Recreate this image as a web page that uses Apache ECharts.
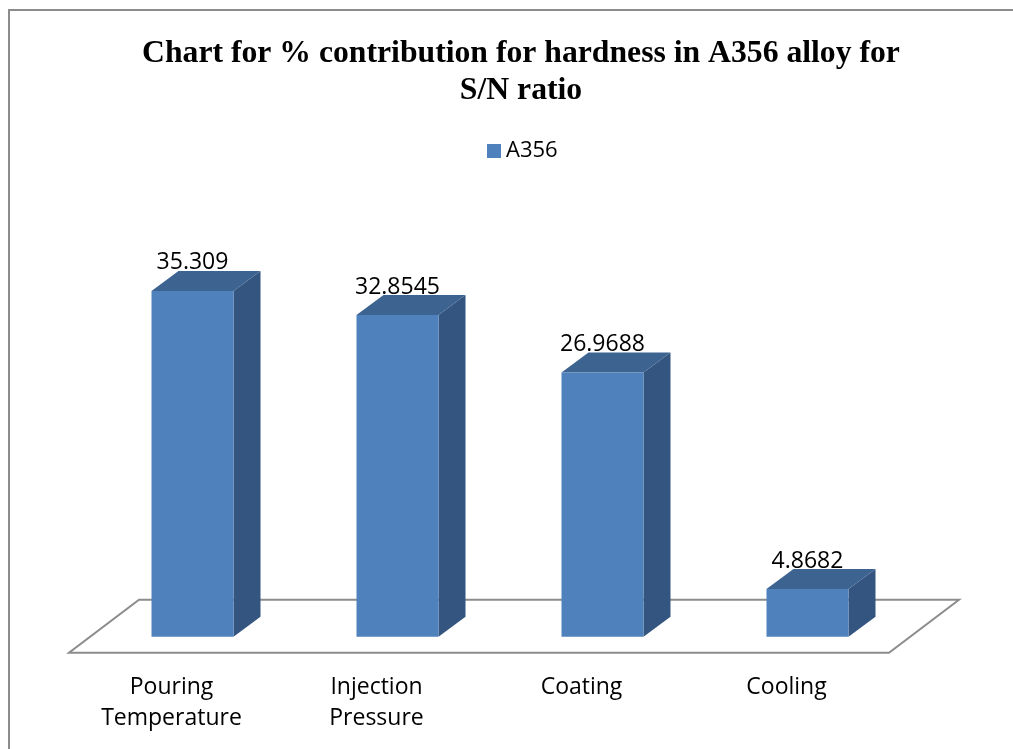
<!DOCTYPE html>
<html>
<head>
<meta charset="utf-8">
<script src="https://cdn.jsdelivr.net/npm/echarts@6/dist/echarts.min.js"></script>
<style>
  html, body { margin: 0; padding: 0; background: #fff; }
  #chart { width: 1013px; height: 749px; }
</style>
</head>
<body>
<div id="chart"></div>
<script>
// 数据
const categories = ['Pouring\nTemperature', 'Injection\nPressure', 'Coating', 'Cooling'];
const seriesName = 'A356';
const values = [35.309, 32.8545, 26.9688, 4.8682];
const valueLabels = ['35.309', '32.8545', '26.9688', '4.8682'];

// 3D 柱子的样式
const FRONT = '#4F81BD';
const SIDE = '#34557F';
const TOP = '#3D6391';
const DX = 27, DY = -20;       // 柱子纵深偏移
const FLOOR_DX = 70, FLOOR_DY = -53;
const LABEL_FONT = '"Open Sans", "Liberation Sans", sans-serif';

const chart = echarts.init(document.getElementById('chart'));

// 底板（平行四边形）
function renderFloor(params, api) {
    const cs = params.coordSys;
    const yFront = cs.y + cs.height + 16;
    const xl = cs.x - 21, xr = cs.x + cs.width - 21;
    return {
        type: 'polygon',
        shape: { points: [
            [xl, yFront], [xr, yFront],
            [xr + FLOOR_DX, yFront + FLOOR_DY], [xl + FLOOR_DX, yFront + FLOOR_DY]
        ] },
        style: { fill: '#fff', stroke: '#8c8c8c', lineWidth: 2 }
    };
}

// 立体柱子
function renderBar(params, api) {
    const idx = api.value(0);
    const val = api.value(1);
    const top = api.coord([idx, val]);
    const base = api.coord([idx, 0]);
    const bw = api.size([1, 0])[0] * 0.4;
    const x0 = top[0] - bw / 2, x1 = top[0] + bw / 2;
    const yT = top[1], yB = base[1];
    return {
        type: 'group',
        children: [
            {
                type: 'polygon',
                shape: { points: [[x1, yT], [x1 + DX, yT + DY], [x1 + DX, yB + DY], [x1, yB]] },
                style: { fill: SIDE }
            },
            {
                type: 'polygon',
                shape: { points: [[x0, yT], [x1, yT], [x1 + DX, yT + DY], [x0 + DX, yT + DY]] },
                style: { fill: TOP }
            },
            {
                type: 'rect',
                shape: { x: x0, y: yT, width: bw, height: yB - yT },
                style: { fill: FRONT }
            },
            {
                type: 'text',
                style: {
                    text: valueLabels[params.dataIndex],
                    x: top[0], y: yT - 28,
                    align: 'center', verticalAlign: 'middle',
                    fontFamily: LABEL_FONT, fontSize: 23, fill: '#000'
                }
            }
        ]
    };
}

const option = {
    backgroundColor: '#fff',
    animation: false,
    title: {
        text: 'Chart for % contribution for hardness in A356 alloy for\nS/N ratio',
        left: 516,
        textAlign: 'center',
        top: 30,
        textStyle: {
            fontFamily: '"Liberation Serif", "Times New Roman", serif',
            fontWeight: 'bold',
            fontSize: 31.7,
            lineHeight: 37,
            color: '#000'
        }
    },
    legend: {
        data: [seriesName],
        left: 482,
        top: 135,
        icon: 'rect',
        itemWidth: 14,
        itemHeight: 14,
        itemGap: 10,
        textStyle: { fontFamily: LABEL_FONT, fontSize: 22, color: '#000' }
    },
    grid: { left: 90, right: 103, top: 245, bottom: 112.3 },
    xAxis: {
        type: 'category',
        data: categories,
        axisLine: { show: false },
        axisTick: { show: false },
        axisLabel: {
            margin: 35,
            padding: [0, 42, 0, 0],
            fontFamily: LABEL_FONT,
            fontSize: 23,
            lineHeight: 31,
            color: '#000'
        }
    },
    yAxis: {
        type: 'value',
        min: 0,
        max: 40,
        interval: 5,
        show: false
    },
    graphic: [{
        type: 'rect',
        shape: { x: 9, y: 10, width: 1100, height: 800 },
        style: { fill: null, stroke: '#8c8c8c', lineWidth: 2 },
        z: -1
    }],
    series: [
        {
            name: 'floor',
            type: 'custom',
            renderItem: renderFloor,
            data: [[0, 0]],
            silent: true,
            z: 1
        },
        {
            name: seriesName,
            type: 'custom',
            renderItem: renderBar,
            itemStyle: { color: FRONT },
            data: values.map((v, i) => [i, v]),
            encode: { x: 0, y: 1 },
            z: 2
        }
    ]
};

chart.setOption(option);
</script>
</body>
</html>
